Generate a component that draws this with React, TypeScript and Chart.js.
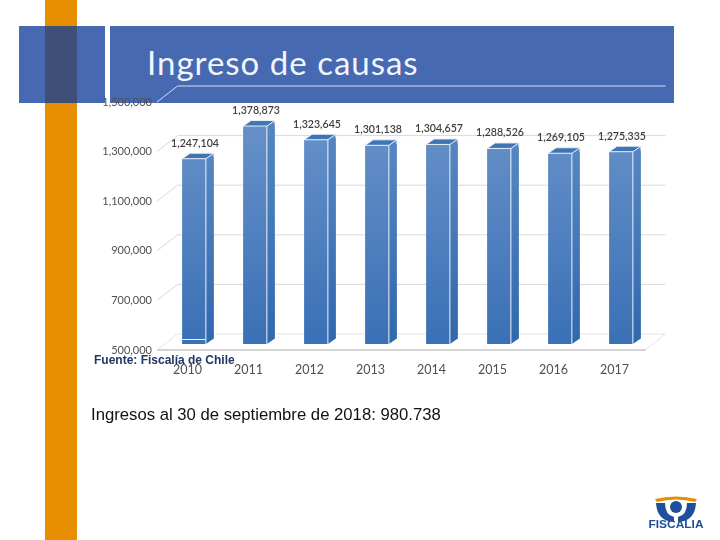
import React, { useEffect, useRef } from "react";
import { Chart, registerables } from "chart.js";

Chart.register(...registerables);

const years = ["2010", "2011", "2012", "2013", "2014", "2015", "2016", "2017"];
const causas = [1247104, 1378873, 1323645, 1301138, 1304657, 1288526, 1269105, 1275335];
const yMin = 500000;
const yMax = 1500000;
const yStep = 200000;

const titleText = "Ingreso de causas";
const sourceText = "Fuente: Fiscalía de Chile";
const noteText = "Ingresos al 30 de septiembre de 2018: 980.738";

const fmt = (v: number) => v.toLocaleString("en-US");

const TICK_FONT = "Lato, 'Open Sans', sans-serif";
const wallDx = 20.5;
const wallDy = -16;
const barDx = 6.5;
const barDy = -6;
const depthX = 8;
const depthY = -5.5;

const wall3d = {
  id: "wall3d",
  beforeDatasetsDraw(chart: any) {
    const { ctx, chartArea, scales } = chart;
    const y = scales.y;
    ctx.save();
    ctx.strokeStyle = "#d9d9d9";
    ctx.lineWidth = 1;
    y.ticks.forEach((t: any, i: number) => {
      const py = y.getPixelForValue(t.value);
      if (i === 0) return;
      const isTop = t.value === yMax;
      ctx.strokeStyle = isTop ? "#d5deee" : "#d9d9d9";
      ctx.beginPath();
      ctx.moveTo(chartArea.left, py);
      ctx.lineTo(chartArea.left + wallDx, py + wallDy);
      ctx.lineTo(chartArea.right + wallDx, py + wallDy);
      ctx.stroke();
    });
    const floor = y.getPixelForValue(yMin);
    ctx.strokeStyle = "#e4e4e4";
    ctx.beginPath();
    ctx.moveTo(chartArea.left, floor);
    ctx.lineTo(chartArea.left + wallDx, floor + wallDy);
    ctx.lineTo(chartArea.right + wallDx, floor + wallDy);
    ctx.lineTo(chartArea.right, floor);
    ctx.stroke();
    ctx.strokeStyle = "#d4d4d4";
    ctx.lineWidth = 2;
    ctx.beginPath();
    ctx.moveTo(chartArea.left, floor);
    ctx.lineTo(chartArea.right + 1, floor);
    ctx.stroke();
    ctx.restore();
    ctx.save();
    ctx.translate(barDx, barDy);
  },
  afterDatasetsDraw(chart: any) {
    const { ctx, scales } = chart;
    ctx.restore();
    const meta = chart.getDatasetMeta(0);
    const basePx = scales.y.getPixelForValue(yMin);
    ctx.save();
    meta.data.forEach((bar: any, i: number) => {
      const w = bar.width;
      const l = bar.x - w / 2 + barDx;
      const r = bar.x + w / 2 + barDx;
      const t = bar.y + barDy;
      const b = basePx + barDy;
      const side = ctx.createLinearGradient(0, t, 0, b);
      side.addColorStop(0, "#5686c1");
      side.addColorStop(1, "#3068ad");
      ctx.fillStyle = side;
      ctx.beginPath();
      ctx.moveTo(r, t);
      ctx.lineTo(r + depthX, t + depthY);
      ctx.lineTo(r + depthX, b + depthY);
      ctx.lineTo(r, b);
      ctx.closePath();
      ctx.fill();
      ctx.fillStyle = "#3f74b5";
      ctx.beginPath();
      ctx.moveTo(l, t);
      ctx.lineTo(l + depthX, t + depthY);
      ctx.lineTo(r + depthX, t + depthY);
      ctx.lineTo(r, t);
      ctx.closePath();
      ctx.fill();
      ctx.strokeStyle = "#e8f0f8";
      ctx.lineWidth = 1;
      ctx.beginPath();
      ctx.moveTo(l, t);
      ctx.lineTo(r, t);
      ctx.lineTo(r, b);
      ctx.moveTo(r, t);
      ctx.lineTo(r + depthX, t + depthY);
      ctx.moveTo(l, t);
      ctx.lineTo(l + depthX, t + depthY);
      ctx.lineTo(r + depthX, t + depthY);
      ctx.lineTo(r + depthX, t + depthY + 4);
      if (i === 0) {
        ctx.moveTo(l, b - 4.5);
        ctx.lineTo(r, b - 4.5);
      }
      ctx.stroke();
      ctx.fillStyle = "#404040";
      ctx.font = "600 10.6px " + TICK_FONT;
      ctx.textAlign = "center";
      ctx.textBaseline = "middle";
      ctx.fillText(fmt(causas[i]), bar.x + barDx + 1, t - 15.5);
    });
    ctx.restore();
  },
};

function Logo() {
  return (
    <svg width={62} height={40} style={{ position: "absolute", left: 645, top: 495 }}>
      <path d="M10 4 Q31 -1 52 4 L50 7 Q31 2 12 7 Z" fill="#e68d00" />
      <path d="M11 8 L20 8 Q20 20 29 22 L29 27 Q12 26 11 8 Z" fill="#1f4f9c" />
      <path d="M51 8 L42 8 Q42 20 33 22 L33 27 Q50 26 51 8 Z" fill="#1f4f9c" />
      <circle cx="31" cy="12" r="6" fill="#1f4f9c" />
      <text x="31" y="33" fontFamily="'Liberation Sans', sans-serif" fontWeight="700" fontSize="10" fill="#1f4f9c" textAnchor="middle" textLength="55" lengthAdjust="spacingAndGlyphs">FISCALIA</text>
    </svg>
  );
}

export default function App() {
  const ref = useRef<HTMLCanvasElement | null>(null);
  useEffect(() => {
    const canvas = ref.current;
    if (!canvas) return;
    const chart = new Chart(canvas, {
      type: "bar",
      data: {
        labels: years,
        datasets: [
          {
            data: causas,
            categoryPercentage: 1,
            barPercentage: 0.39,
            backgroundColor: (c: any) => {
              const { ctx, chartArea } = c.chart;
              if (!chartArea) return "#5b88c3";
              const g = ctx.createLinearGradient(0, chartArea.top + 30, 0, chartArea.bottom);
              g.addColorStop(0, "#6690c8");
              g.addColorStop(1, "#3a70b6");
              return g;
            },
            borderWidth: 0,
          },
        ],
      },
      options: {
        responsive: false,
        animation: false,
        layout: { padding: { left: 0, top: 102, right: 75, bottom: 0 } },
        plugins: { legend: { display: false }, tooltip: { enabled: false }, title: { display: false } },
        scales: {
          x: {
            grid: { display: false, drawTicks: false },
            border: { display: false },
            afterFit: (s: any) => { s.height = 190; },
            ticks: { color: "#505050", font: { family: TICK_FONT, size: 12.5 }, padding: 12, maxRotation: 0 },
          },
          y: {
            min: yMin,
            max: yMax,
            grid: { display: false, drawTicks: false },
            border: { display: false },
            afterFit: (s: any) => { s.width = 157; },
            ticks: {
              stepSize: yStep,
              color: "#505050",
              font: { family: TICK_FONT, size: 11 },
              padding: 5,
              callback: (v: any) => fmt(Number(v)),
            },
          },
        },
      },
      plugins: [wall3d],
    } as any);
    return () => chart.destroy();
  }, []);

  const abs = (s: React.CSSProperties): React.CSSProperties => ({ position: "absolute", ...s });
  return (
    <div style={{ position: "fixed", left: 0, top: 0, width: 720, height: 540, background: "#fff", overflow: "hidden" }}>
      <div style={abs({ left: 45, top: 0, width: 32, height: 540, background: "#e68d00" })} />
      <div style={abs({ left: 19, top: 26, width: 86, height: 77, background: "#4669b2" })} />
      <div style={abs({ left: 45, top: 26, width: 32, height: 77, background: "#3f4f78" })} />
      <div style={abs({ left: 110, top: 26, width: 564, height: 77, background: "#4669b2" })} />
      <div style={abs({ left: 147, top: 42, color: "#f2f5fb", fontFamily: "Lato, sans-serif", fontSize: 33, lineHeight: "40px", letterSpacing: 1, whiteSpace: "nowrap" })}>{titleText}</div>
      <canvas ref={ref} width={720} height={540} style={abs({ left: 0, top: 0 })} />
      <div style={abs({ left: 94, top: 353, color: "#1f3864", fontFamily: "'Liberation Sans', sans-serif", fontWeight: 700, fontSize: 12, lineHeight: "14px", whiteSpace: "nowrap" })}>{sourceText}</div>
      <div style={abs({ left: 91, top: 405, color: "#111", fontFamily: "'Liberation Sans', sans-serif", fontSize: 16.7, lineHeight: "19px", whiteSpace: "nowrap" })}>{noteText}</div>
      <Logo />
    </div>
  );
}
